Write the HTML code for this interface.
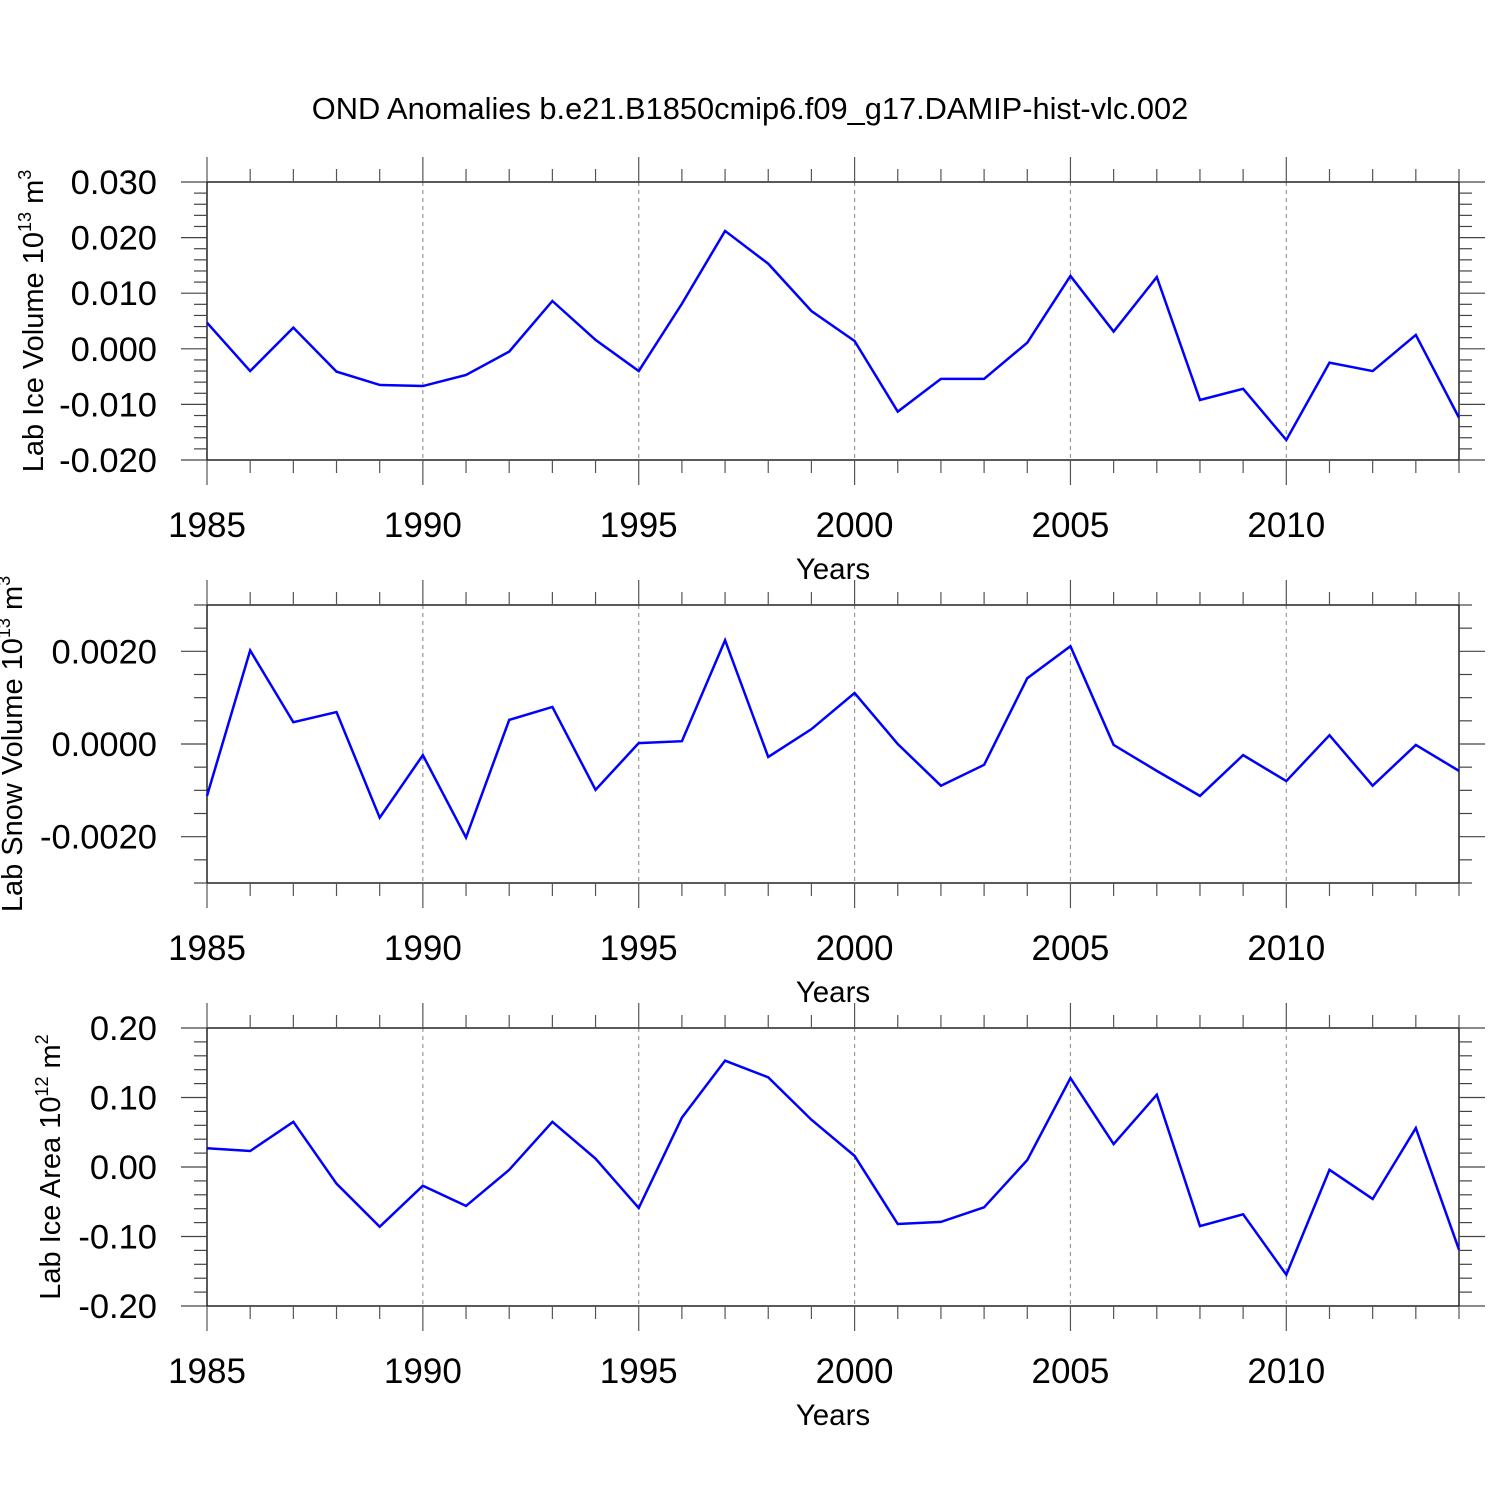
<!DOCTYPE html>
<html><head><meta charset="utf-8"><style>body{margin:0;background:#fff}svg{display:block}text{font-family:"Liberation Sans",sans-serif;fill:#000}</style></head>
<body>
<svg id="c" width="1500" height="1500" xmlns="http://www.w3.org/2000/svg">
<text x="750" y="119" font-size="30.8" text-anchor="middle">OND Anomalies b.e21.B1850cmip6.f09_g17.DAMIP-hist-vlc.002</text>
</svg>
<script>
const years=[1985,1986,1987,1988,1989,1990,1991,1992,1993,1994,1995,1996,1997,1998,1999,2000,2001,2002,2003,2004,2005,2006,2007,2008,2009,2010,2011,2012,2013,2014];
const iceVolume=[0.0047,-0.0040,0.0038,-0.0041,-0.0065,-0.0067,-0.0047,-0.0005,0.0086,0.0016,-0.0040,0.0081,0.0212,0.0153,0.0068,0.0014,-0.0113,-0.0054,-0.0054,0.0011,0.0131,0.0031,0.0129,-0.0092,-0.0072,-0.0164,-0.0025,-0.0040,0.0025,-0.0124];
const snowVolume=[-0.00112,0.00202,0.00047,0.00069,-0.00159,-0.00024,-0.00202,0.00052,0.0008,-0.00099,0.00002,0.00006,0.00224,-0.00028,0.00032,0.0011,0.0,-0.0009,-0.00045,0.00142,0.00211,-0.00002,-0.00058,-0.00112,-0.00024,-0.0008,0.00019,-0.0009,-0.00002,-0.00058];
const iceArea=[0.027,0.023,0.065,-0.024,-0.086,-0.027,-0.056,-0.004,0.065,0.012,-0.059,0.071,0.153,0.129,0.068,0.016,-0.082,-0.079,-0.058,0.010,0.128,0.033,0.104,-0.085,-0.068,-0.155,-0.004,-0.046,0.056,-0.119];
const xTickYears=[1985,1990,1995,2000,2005,2010];
const tick1=[0.03,0.02,0.01,0,-0.01,-0.02], lab1=["0.030","0.020","0.010","0.000","-0.010","-0.020"];
const tick2=[0.002,0,-0.002], lab2=["0.0020","0.0000","-0.0020"];
const tick3=[0.2,0.1,0,-0.1,-0.2], lab3=["0.20","0.10","0.00","-0.10","-0.20"];

const svg=document.getElementById('c');const NS='http://www.w3.org/2000/svg';
function mk(t,a,txt){const e=document.createElementNS(NS,t);for(const k in a)e.setAttribute(k,a[k]);if(txt!=null)e.textContent=txt;svg.appendChild(e);return e;}
const X0=207,X1=1459;
const xs=y=>X0+(y-1985)*(X1-X0)/29;
function panel(top,ymin,ymax,vals,ticks,labs,minorStep,title,tsup,tunit,tx,key){
 const bot=top+278;const ys=v=>bot-(v-ymin)/(ymax-ymin)*278;
 xTickYears.forEach(y=>{if(y>1985){const l=mk('line',{x1:xs(y),x2:xs(y),y1:top,y2:bot,stroke:'#999','stroke-width':1.2,'stroke-dasharray':'4,4'});
 
 }});
 const r=mk('rect',{x:X0,y:top,width:X1-X0,height:278,fill:'none',stroke:'#000','stroke-width':1.3});
 
 
 years.forEach(y=>{const maj=xTickYears.includes(y);const L=maj?25:13;
  mk('line',{x1:xs(y),x2:xs(y),y1:top-L,y2:top,stroke:'#555','stroke-width':1.2});
  mk('line',{x1:xs(y),x2:xs(y),y1:bot,y2:bot+L,stroke:'#555','stroke-width':1.2});});
 const n=Math.round((ymax-ymin)/minorStep);
 for(let i=0;i<=n;i++){const v=ymin+i*minorStep;const maj=ticks.some(t=>Math.abs(t-v)<minorStep/10);const L=maj?26:13;const yy=ys(v);
  mk('line',{x1:X0-L,x2:X0,y1:yy,y2:yy,stroke:'#444','stroke-width':1.2});
  mk('line',{x1:X1,x2:X1+L,y1:yy,y2:yy,stroke:'#444','stroke-width':1.2});}
 ticks.forEach((t,i)=>{const e=mk('text',{x:157,y:ys(t)+12,'font-size':34.5,'text-anchor':'end'},labs[i]);
  
  });
 xTickYears.forEach(y=>{const e=mk('text',{x:xs(y),y:bot+77,'font-size':35,'text-anchor':'middle'},String(y));
  
  });
 const xt=mk('text',{x:833,y:bot+119,'font-size':29.5,'text-anchor':'middle'},'Years');
 
 
 const yt=mk('text',{transform:`translate(${tx},${top+139}) rotate(-90)`,'font-size':29,'text-anchor':'middle'});
 
 
 yt.innerHTML=`${title} 10<tspan dy="-12" font-size="18">${tsup}</tspan><tspan dy="12"> m</tspan><tspan dy="-12" font-size="18">${tunit}</tspan>`;
 const p=mk('polyline',{points:vals.map((v,i)=>xs(years[i])+','+ys(v)).join(' '),fill:'none',stroke:'#0000ff','stroke-width':2.5});
 
 
}
panel(182,-0.02,0.03,iceVolume,tick1,lab1,0.002,'Lab Ice Volume','13','3',43,'ice-volume');
panel(605,-0.003,0.003,snowVolume,tick2,lab2,0.0005,'Lab Snow Volume','13','3',22,'snow-volume');
panel(1028,-0.2,0.2,iceArea,tick3,lab3,0.02,'Lab Ice Area','12','2',60,'ice-area');
</script>
</body></html>
